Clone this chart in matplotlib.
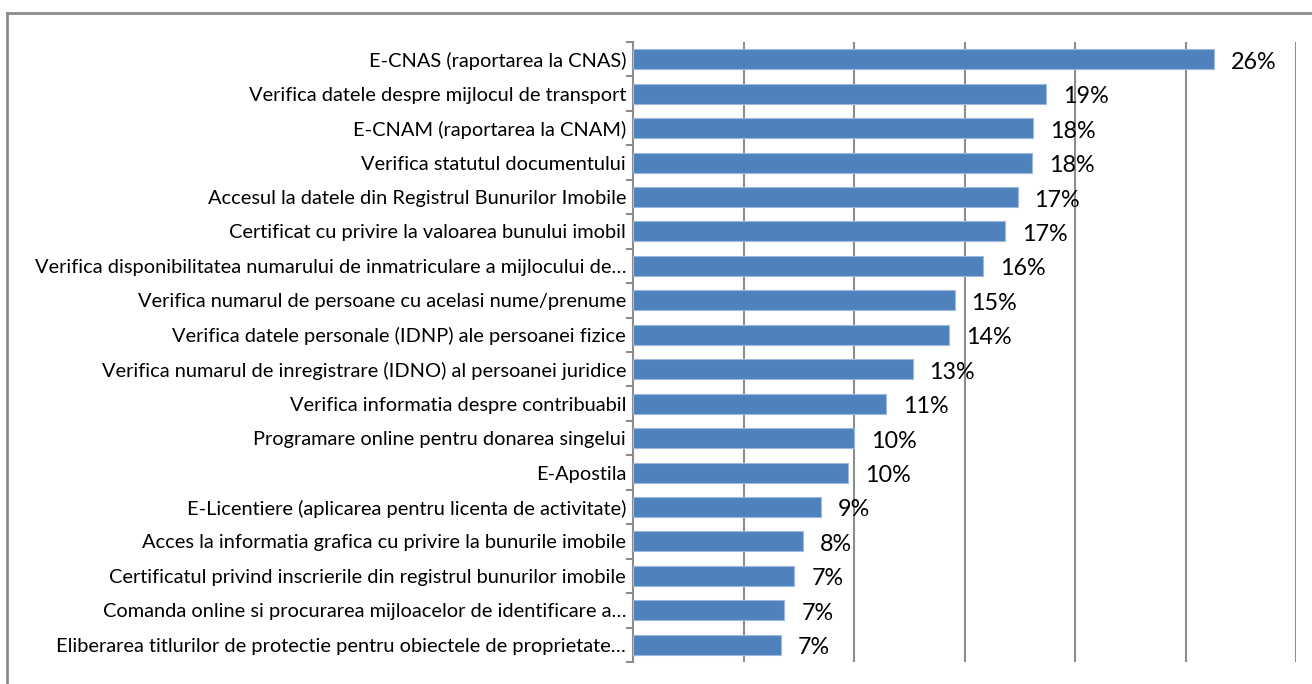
import matplotlib
matplotlib.use("Agg")
import matplotlib.pyplot as plt
import numpy as np
from matplotlib.lines import Line2D
from matplotlib.transforms import offset_copy

categories = [
    "E-CNAS (raportarea la CNAS)",
    "Verifica datele despre mijlocul de transport",
    "E-CNAM (raportarea la CNAM)",
    "Verifica statutul documentului",
    "Accesul la datele din Registrul Bunurilor Imobile",
    "Certificat cu privire la valoarea bunului imobil",
    "Verifica disponibilitatea numarului de inmatriculare a mijlocului de\u2026",
    "Verifica numarul de persoane cu acelasi nume/prenume",
    "Verifica datele personale (IDNP) ale persoanei fizice",
    "Verifica numarul de inregistrare (IDNO) al persoanei juridice",
    "Verifica informatia despre contribuabil",
    "Programare online pentru donarea singelui",
    "E-Apostila",
    "E-Licentiere (aplicarea pentru licenta de activitate)",
    "Acces la informatia grafica cu privire la bunurile imobile",
    "Certificatul privind inscrierile din registrul bunurilor imobile",
    "Comanda online si procurarea mijloacelor de identificare a\u2026",
    "Eliberarea titlurilor de protectie pentru obiectele de proprietate\u2026",
]
values = [26.3, 18.7, 18.1, 18.05, 17.4, 16.85, 15.85, 14.55, 14.3, 12.65,
          11.47, 10.02, 9.75, 8.5, 7.67, 7.3, 6.85, 6.7]
value_labels = ["26%", "19%", "18%", "18%", "17%", "17%", "16%", "15%", "14%",
                "13%", "11%", "10%", "10%", "9%", "8%", "7%", "7%", "7%"]
x_max = 30
grid_values = [5, 10, 15, 20, 25, 30]

plt.rcParams['font.family'] = ['Lato', 'DejaVu Sans']

fig = plt.figure(figsize=(13.12, 6.84), dpi=100)
ax = fig.add_axes([633 / 1312, 1 - 662 / 684, (1296 - 633) / 1312, (662 - 42) / 684])

n = len(categories)
y = np.arange(n)
bar_color = "#4F81BD"
ax.barh(y, values, height=0.58, color=bar_color, edgecolor="#9DB9DD", linewidth=0.8, zorder=3)

ax.set_xlim(0, x_max)
ax.set_ylim(n - 0.5, -0.5)

for gv in grid_values:
    ax.axvline(gv, color="#8C8C8C", linewidth=1.5, zorder=1)

for spine in ["top", "right", "bottom"]:
    ax.spines[spine].set_visible(False)
ax.spines["left"].set_color("#8C8C8C")
ax.spines["left"].set_linewidth(1.5)

ax.set_xticks([])
ax.set_yticks(y)
ax.set_yticklabels(categories, fontsize=14.4, color="#000000")
ax.tick_params(axis="y", which="major", length=0, pad=5)
ax.set_yticks(np.arange(-0.5, n, 1.0), minor=True)
ax.tick_params(axis="y", which="minor", length=5, width=1.5, color="#8C8C8C", direction="out")

for i, (v, lab) in enumerate(zip(values, value_labels)):
    tr = offset_copy(ax.transData, fig=fig, x=17, y=-3, units="dots")
    ax.text(v, i, lab, transform=tr, fontsize=16.8, va="center", ha="left", color="#000000", zorder=4)

# outer frame (top and left borders)
fig.add_artist(Line2D([7 / 1312, 1.0], [1 - 13 / 684, 1 - 13 / 684], transform=fig.transFigure,
                      color="#8C8C8C", linewidth=2))
fig.add_artist(Line2D([7 / 1312, 7 / 1312], [0, 1 - 13 / 684], transform=fig.transFigure,
                      color="#8C8C8C", linewidth=2))

fig.savefig("out.png", dpi=100, facecolor="white")
